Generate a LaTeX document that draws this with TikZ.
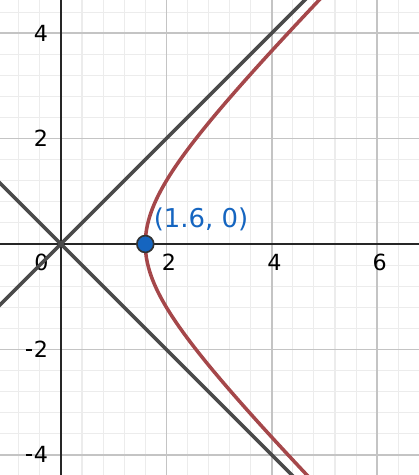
\documentclass[tikz,border=0pt]{standalone}
\usepackage{fontspec}
\setmainfont{DejaVu Sans}
\usetikzlibrary{positioning}
\definecolor{gridminor}{HTML}{ECECEC}
\definecolor{gridmajor}{HTML}{C4C4C4}
\definecolor{asymgray}{HTML}{4A4A4A}
\definecolor{curvered}{HTML}{A5474A}
\definecolor{ptblue}{HTML}{1565C0}
\newcommand{\negsign}{\rule[0.3em]{0.3em}{0.08em}\kern0.06em}

\begin{document}
\begin{tikzpicture}[x=1cm, y=1cm,
                minorgrid/.style={draw=gridminor, line width=0.6pt},
                majorgrid/.style={draw=gridmajor, line width=0.9pt},
                axis/.style={draw=black!85, line width=1.1pt},
                asym/.style={draw=asymgray, line width=1.9pt},
                curve/.style={draw=curvered, line width=1.9pt},
                vertex/.style={circle, draw=black!80, fill=ptblue, line width=0.9pt, minimum size=0.32cm, inner sep=0pt},
                tick/.style={font=\fontsize{12}{14}\selectfont, inner sep=0pt}]
                
                \useasboundingbox (-1.157,-4.383) rectangle (6.793,4.63);
                \clip (-1.157,-4.383) rectangle (6.793,4.63);
                
                % grid
                \draw[minorgrid] (-1.2,-4.4) grid[step=0.4] (6.8,4.8);
                \draw[majorgrid] (-2,-6) grid[step=2] (8,6);
                
                % axes
                \draw[axis] (-1.2,0) -- (6.8,0);
                \draw[axis] (0,-4.4) -- (0,4.7);
                
                % tick labels
                \foreach \x in {2,4,6}
                    \node[tick, anchor=north] at (\x+0.05,-0.18) {\x};
                \node[tick, anchor=north east] at (-0.23,-0.18) {0};
                \foreach \y in {4,2}
                    \node[tick, anchor=east] at (-0.24,\y) {\y};
                \foreach \y in {-2,-4}
                    \node[tick, anchor=east] at (-0.24,\y) {\negsign\the\numexpr-\y\relax};
                
                % asymptotes
                \draw[asym] (-1.2,-1.2) -- (4.8,4.8);
                \draw[asym] (-1.2,1.2) -- (4.6,-4.6);
                
                % hyperbola x^2 - y^2 = 1.6^2
                \draw[curve] plot[domain=-1.9:1.9, samples=120, variable=\t] ({1.6*cosh(\t)},{1.6*sinh(\t)});
                
                \node[vertex] (vtx) at (1.6,0) {};
                \node[font=\fontsize{14}{16}\selectfont, text=ptblue, inner sep=0pt, above right=0.12cm and 0.03cm of vtx] (vtxlabel) {(1.6, 0)};
            \end{tikzpicture}
\end{document}
